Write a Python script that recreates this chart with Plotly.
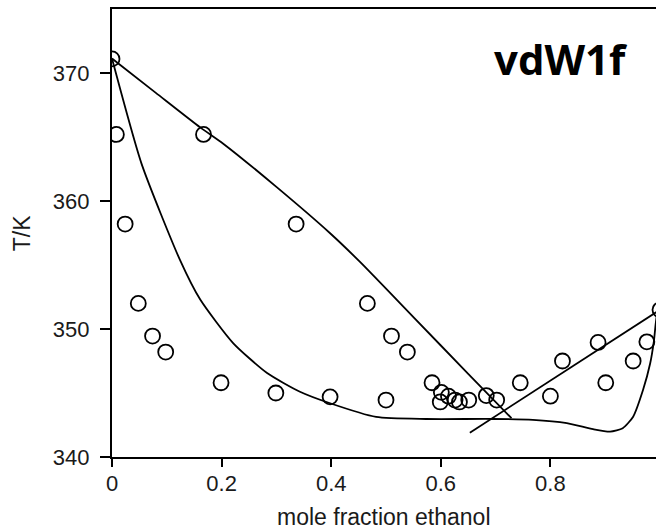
import plotly.graph_objects as go

# experimental points (mole fraction ethanol, T/K)
exp_x = [0.0, 0.008, 0.024, 0.048, 0.074, 0.098, 0.199, 0.299, 0.398, 0.500,
         0.167, 0.336, 0.466, 0.510, 0.539, 0.584, 0.601, 0.599, 0.614, 0.626,
         0.634, 0.651, 0.683, 0.702, 0.745, 0.800, 0.822, 0.887, 0.901, 0.951,
         0.976, 1.0]
exp_T = [371.1, 365.2, 358.2, 352.0, 349.45, 348.2, 345.8, 345.0, 344.7, 344.45,
         365.2, 358.2, 352.0, 349.45, 348.2, 345.8, 345.05, 344.3, 344.75, 344.45,
         344.3, 344.45, 344.8, 344.45, 345.8, 344.75, 347.5, 348.95, 345.8, 347.5,
         349.0, 351.5]

# model curve: dew branch (propanol side)
dew1_x = [0.0, 0.08, 0.161, 0.203, 0.30, 0.398, 0.4526, 0.55, 0.65, 0.729]
dew1_T = [371.13, 368.45, 365.75, 364.48, 361.1, 357.48, 355.24, 350.93, 346.5, 343.03]

# model curve: bubble branch
bub_x = [0.0, 0.054, 0.124, 0.161, 0.221, 0.283, 0.343, 0.398, 0.482, 0.573,
         0.695, 0.768, 0.830, 0.878, 0.909, 0.932, 0.951, 0.969, 0.982, 0.989,
         0.994, 1.0]
bub_T = [371.13, 362.9, 355.4, 352.3, 348.9, 346.56, 345.1, 344.2, 343.13, 342.97,
         342.97, 342.9, 342.64, 342.17, 341.98, 342.25, 343.15, 345.23, 347.3, 349.1,
         350.95, 351.5]

# model curve: dew branch (ethanol side)
dew2_x = [0.653, 1.0]
dew2_T = [341.9, 351.5]

x_ticks = [0, 0.2, 0.4, 0.6, 0.8]
x_tick_labels = ["0", "0.2", "0.4", "0.6", "0.8"]
y_ticks = [340, 350, 360, 370]

line_style = dict(color="black", width=1.8)

fig = go.Figure()
fig.add_trace(go.Scatter(x=dew1_x, y=dew1_T, mode="lines", line=dict(**line_style, shape="spline", smoothing=0.6)))
fig.add_trace(go.Scatter(x=bub_x, y=bub_T, mode="lines", line=dict(**line_style, shape="spline", smoothing=0.6)))
fig.add_trace(go.Scatter(x=dew2_x, y=dew2_T, mode="lines", line=line_style))
fig.add_trace(go.Scatter(x=exp_x, y=exp_T, mode="markers",
                         marker=dict(symbol="circle-open", size=15, color="black",
                                     line=dict(width=1.8, color="black"))))

tickfont = dict(family="Liberation Sans, Arial, sans-serif", size=22, color="#1a1a1a")
titlefont = dict(family="Liberation Sans, Arial, sans-serif", size=23, color="#1a1a1a")

fig.update_layout(
    width=656, height=531,
    margin=dict(l=112, r=0, t=9, b=74),
    paper_bgcolor="white", plot_bgcolor="white",
    showlegend=False,
    xaxis=dict(range=[0, 0.9927], tickvals=x_ticks, ticktext=x_tick_labels,
               showgrid=False, zeroline=False, showline=True, linecolor="black",
               linewidth=2.2, mirror=True, ticks="outside", ticklen=8, tickwidth=2,
               tickcolor="black", tickfont=tickfont, ticklabelstandoff=-3),
    yaxis=dict(range=[340, 375], tickvals=y_ticks,
               showgrid=False, zeroline=False, showline=True, linecolor="black",
               linewidth=2.2, mirror=False, ticks="outside", ticklen=10, tickwidth=2,
               tickcolor="black", tickfont=tickfont, ticklabelstandoff=6),
    annotations=[
        dict(text="mole fraction ethanol", xref="paper", yref="paper", x=0.5, y=-0.135,
             xanchor="center", yanchor="middle", showarrow=False, font=titlefont),
        dict(text="T/K", xref="paper", yref="paper", x=-0.165, y=0.5, textangle=-90,
             xanchor="center", yanchor="middle", showarrow=False, font=titlefont),
        dict(text="<b>vdW1f</b>", xref="paper", yref="paper", x=0.825, y=0.89,
             xanchor="center", yanchor="middle", showarrow=False,
             font=dict(family="Open Sans, sans-serif", size=42, color="black")),
        dict(text="1", xref="x", yref="paper", x=1.0, y=-0.058,
             xanchor="center", yanchor="middle", showarrow=False,
             font=tickfont),
    ],
)

fig.write_html("out.html", config={"displayModeBar": False},
               post_script="document.body.style.margin='0px';document.body.style.overflow='hidden';")
